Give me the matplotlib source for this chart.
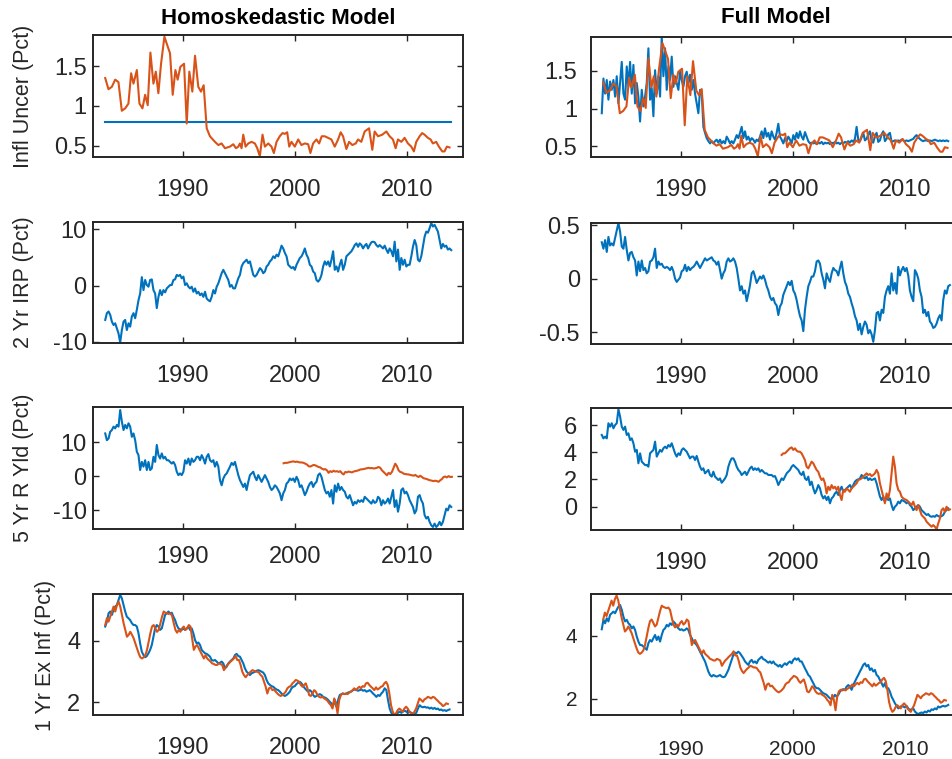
import numpy as np
import matplotlib
matplotlib.use("Agg")
import matplotlib.pyplot as plt

plt.rcParams['font.family'] = ['Liberation Sans', 'DejaVu Sans']
plt.rcParams['axes.unicode_minus'] = False

BLUE = '#0072BD'
ORANGE = '#D95319'
INK = '#262626'

# ---------------- data ----------------
# Observed inflation uncertainty (orange, both top panels)
unc_obs_years = [1983.09, 1983.38, 1983.68, 1983.98, 1984.27, 1984.57, 1984.87, 1985.16, 1985.40, 1985.61,
                 1985.91, 1986.14, 1986.41, 1986.65, 1986.88, 1987.12, 1987.39, 1987.60, 1987.83, 1988.07,
                 1988.37, 1988.58, 1988.87, 1989.11, 1989.35, 1989.55, 1989.79, 1990.12, 1990.36, 1990.59,
                 1990.86, 1991.10, 1991.39, 1991.63, 1991.87, 1992.14, 1992.43, 1992.88, 1993.18, 1993.47,
                 1993.77, 1994.21, 1994.51, 1994.75, 1994.96, 1995.10, 1995.25, 1995.40, 1995.61, 1995.85,
                 1996.14, 1996.44, 1996.65, 1996.88, 1997.12, 1997.33, 1997.63, 1997.92, 1998.13, 1998.37,
                 1998.66, 1998.90, 1999.11, 1999.32, 1999.50, 1999.70, 2000.00, 2000.30, 2000.59, 2000.89,
                 2001.19, 2001.39, 2001.63, 2001.93, 2002.17, 2002.40, 2002.67, 2002.97, 2003.26, 2003.56,
                 2003.86, 2004.09, 2004.30, 2004.60, 2004.84, 2005.13, 2005.43, 2005.64, 2005.93, 2006.23,
                 2006.62, 2006.91, 2007.12, 2007.42, 2007.80, 2008.16, 2008.46, 2008.75, 2008.99, 2009.20,
                 2009.50, 2009.79, 2010.09, 2010.39, 2010.62, 2010.83, 2011.13, 2011.36, 2011.57, 2011.87,
                 2012.11, 2012.31, 2012.61, 2012.85, 2013.15, 2013.35, 2013.56, 2013.80]
unc_obs = [1.35, 1.21, 1.24, 1.33, 1.30, 0.94, 0.97, 1.03, 1.41, 1.28,
           1.45, 1.03, 0.97, 1.14, 1.01, 1.67, 1.28, 1.43, 1.16, 1.53,
           1.87, 1.78, 1.66, 1.14, 1.45, 1.33, 1.49, 1.53, 0.78, 1.43,
           1.18, 1.63, 1.24, 1.18, 1.26, 0.72, 0.62, 0.55, 0.51, 0.53,
           0.47, 0.49, 0.52, 0.47, 0.49, 0.53, 0.47, 0.64, 0.49, 0.53,
           0.55, 0.53, 0.47, 0.37, 0.64, 0.49, 0.53, 0.49, 0.41, 0.55,
           0.62, 0.66, 0.65, 0.67, 0.49, 0.55, 0.49, 0.58, 0.51, 0.53,
           0.52, 0.41, 0.53, 0.58, 0.53, 0.62, 0.62, 0.60, 0.58, 0.49,
           0.58, 0.67, 0.62, 0.46, 0.55, 0.51, 0.53, 0.58, 0.55, 0.68,
           0.72, 0.45, 0.68, 0.62, 0.64, 0.68, 0.62, 0.58, 0.47, 0.58,
           0.55, 0.60, 0.53, 0.49, 0.43, 0.55, 0.62, 0.66, 0.64, 0.60,
           0.58, 0.53, 0.55, 0.49, 0.43, 0.43, 0.49, 0.48]

# Homoskedastic model inflation uncertainty (constant)
homo_unc_years = [1983.09, 2013.95]
homo_unc = [0.80, 0.80]

# Full model inflation uncertainty (blue)
full_unc_span = (1982.96, 2013.86)
full_unc = [0.94, 1.40, 1.20, 1.38, 1.12, 1.36, 1.25, 1.38, 1.16, 1.43,
            1.07, 1.34, 1.62, 1.20, 1.12, 1.56, 1.29, 1.62, 1.20, 1.58,
            1.07, 1.34, 1.16, 0.83, 1.25, 1.03, 1.16, 1.34, 1.80, 1.12,
            1.27, 0.90, 1.51, 1.20, 1.43, 1.16, 1.96, 1.43, 1.80, 1.25,
            1.56, 1.38, 1.69, 1.29, 1.43, 1.34, 1.25, 1.49, 1.38, 1.29,
            1.43, 1.49, 1.34, 1.45, 1.25, 1.38, 1.20, 1.07, 0.94, 1.25,
            1.23, 0.76, 0.68, 0.61, 0.57, 0.54, 0.57, 0.54, 0.57, 0.59,
            0.55, 0.59, 0.54, 0.57, 0.54, 0.63, 0.59, 0.54, 0.57, 0.54,
            0.59, 0.65, 0.61, 0.68, 0.76, 0.61, 0.70, 0.59, 0.63, 0.57,
            0.61, 0.59, 0.55, 0.59, 0.57, 0.63, 0.70, 0.61, 0.74, 0.63,
            0.68, 0.59, 0.70, 0.63, 0.59, 0.68, 0.80, 0.63, 0.59, 0.54,
            0.61, 0.57, 0.63, 0.59, 0.54, 0.65, 0.59, 0.68, 0.61, 0.70,
            0.63, 0.59, 0.69, 0.63, 0.57, 0.54, 0.55,
            0.54, 0.55, 0.53, 0.55, 0.54, 0.56, 0.53, 0.55, 0.54, 0.55,
            0.53, 0.55, 0.54, 0.56, 0.54, 0.55, 0.53, 0.55, 0.54, 0.56,
            0.55, 0.57, 0.55, 0.58, 0.56, 0.60, 0.76, 0.59, 0.57, 0.62,
            0.68, 0.58, 0.60, 0.66, 0.70, 0.57, 0.55, 0.64, 0.68, 0.56,
            0.58, 0.66, 0.70, 0.57, 0.60, 0.66, 0.68, 0.56, 0.57, 0.58,
            0.57, 0.58, 0.57, 0.59, 0.58, 0.57, 0.58, 0.57, 0.58, 0.59,
            0.60, 0.63, 0.65, 0.62, 0.60, 0.58, 0.57, 0.58, 0.58, 0.57,
            0.58, 0.57, 0.58, 0.59, 0.58, 0.57, 0.58, 0.57, 0.58, 0.57,
            0.58, 0.57]

# Homoskedastic model 2-year inflation risk premium
homo_irp_span = (1983.09, 2013.95)
homo_irp = [-6.1, -4.9, -4.6, -5.2, -6.4, -7.0, -6.7, -7.6, -8.5, -10.1,
            -7.9, -6.4, -6.1, -7.9, -6.7, -7.3, -5.5, -4.9, -5.8, -4.3,
            -2.6, -1.4, 1.5, -0.8, 1.0, 0.1, -0.2, 1.0, 1.1, -0.8,
            -1.4, -4.0, -2.0, -0.8, -1.7, -0.8, -1.2, -0.5, -0.2, 0.1,
            0.1, 1.0, 1.1, 1.9, 1.7, 1.9, 1.3, 1.6, 0.1, 0.4,
            -0.2, -0.5, -0.2, -1.1, -0.5, -1.4, -1.1, -1.7, -1.4, -2.0,
            -1.1, -2.3, -2.6, -2.8, -2.0, -0.8, -1.4, -0.2, 0.4, 1.3,
            2.2, 2.8, 2.2, 1.6, 1.0, -0.2, 0.1, -0.5, -0.5, 0.4,
            1.3, 1.9, 3.4, 4.0, 4.3, 4.6, 4.0, 4.3, 3.1, 1.9,
            1.6, 1.9, 2.5, 3.1, 2.8, 2.2, 2.5, 3.4, 3.7, 4.3,
            4.6, 5.2, 4.9, 5.5, 5.2, 6.1, 7.1, 6.6, 5.8, 5.2,
            3.7, 3.4, 3.1, 3.3, 2.8, 3.7, 4.3, 4.9, 5.2, 5.8,
            6.6, 5.5, 4.9, 3.7, 3.4, 2.5, 2.2, 1.0, 0.7, 1.1,
            1.9, 3.4, 4.3, 3.7, 4.3, 3.4, 4.6, 6.1, 2.8, 3.4,
            2.5, 3.7, 4.6, 2.8, 3.7, 5.2, 5.5, 5.8, 6.1, 6.6,
            7.2, 7.5, 6.9, 7.5, 7.2, 6.6, 7.1, 7.4, 6.6, 7.2,
            7.7, 7.8, 7.7, 7.2, 6.9, 7.2, 6.9, 6.6, 7.1, 6.4,
            5.8, 6.6, 6.1, 5.2, 7.8, 4.3, 6.4, 2.8, 4.9, 3.7,
            4.6, 3.4, 3.7, 3.7, 5.2, 6.9, 8.1, 7.2, 4.6, 4.3,
            5.2, 6.9, 8.7, 9.6, 9.4, 10.2, 11.1, 10.5, 10.8, 10.2,
            9.6, 8.1, 6.6, 7.4, 6.9, 7.1, 6.4, 6.6, 6.3]

# Full model 2-year inflation risk premium
full_irp_span = (1982.96, 2014.01)
full_irp = [0.34, 0.28, 0.36, 0.25, 0.39, 0.31, 0.33, 0.31, 0.38, 0.45,
            0.52, 0.44, 0.30, 0.28, 0.39, 0.27, 0.17, 0.24, 0.25, 0.20,
            0.17, 0.03, 0.16, 0.07, 0.17, 0.08, 0.10, 0.05, 0.07, 0.16,
            0.17, 0.20, 0.28, 0.10, 0.16, 0.13, 0.14, 0.11, 0.10, 0.11,
            0.10, 0.08, 0.11, 0.07, 0.00, -0.03, -0.01, 0.01, 0.07, 0.08,
            0.13, 0.07, 0.11, 0.08, 0.10, 0.11, 0.13, 0.16, 0.13, 0.10,
            0.13, 0.16, 0.19, 0.17, 0.18, 0.19, 0.20, 0.17, 0.16, 0.13,
            0.16, 0.08, 0.00, 0.05, 0.08, 0.16, 0.19, 0.16, 0.17, 0.19,
            0.16, 0.10, 0.00, -0.11, -0.07, -0.14, -0.11, -0.21, -0.14, -0.06,
            0.05, 0.07, 0.02, -0.04, -0.01, 0.02, 0.00, 0.03, -0.01, -0.07,
            -0.11, -0.17, -0.20, -0.18, -0.23, -0.25, -0.34, -0.26, -0.23, -0.15,
            -0.11, -0.07, -0.03, -0.06, -0.02, -0.11, -0.14, -0.20, -0.28, -0.35,
            -0.39, -0.49, -0.29, -0.17, -0.07, -0.03, 0.02, 0.02, 0.07, 0.16,
            0.17, 0.14, 0.05, -0.01, -0.09, 0.05, 0.00, -0.03, 0.05, 0.10,
            0.08, 0.07, 0.03, 0.10, 0.16, 0.05, -0.03, -0.07, -0.14, -0.17,
            -0.23, -0.28, -0.35, -0.39, -0.48, -0.42, -0.52, -0.45, -0.40, -0.43,
            -0.51, -0.48, -0.52, -0.59, -0.48, -0.32, -0.31, -0.39, -0.29, -0.32,
            -0.17, -0.11, -0.07, -0.14, 0.05, -0.11, -0.04, -0.14, 0.11, 0.03,
            0.08, 0.11, 0.07, 0.10, 0.03, -0.11, -0.17, -0.21, 0.08, 0.05,
            0.00, -0.11, -0.17, -0.32, -0.29, -0.35, -0.31, -0.40, -0.42, -0.46,
            -0.45, -0.42, -0.37, -0.34, -0.39, -0.20, -0.11, -0.14, -0.07, -0.06]

# Homoskedastic model 5-year real yield (blue)
homo_ry_span = (1983.09, 2013.95)
homo_ry = [12.6, 10.6, 11.1, 13.1, 13.6, 14.6, 14.1, 15.1, 14.6, 19.5,
           16.1, 13.6, 15.1, 14.1, 15.6, 14.6, 11.6, 12.6, 10.6, 7.2,
           6.2, 1.8, 4.2, 2.8, 4.7, 1.8, 4.2, 1.8, 2.3, 5.7,
           4.2, 9.2, 6.2, 5.2, 6.7, 5.2, 5.7, 4.7, 4.7, 4.2,
           3.7, 4.2, 3.3, 1.3, 0.3, 0.8, 0.3, 1.3, 4.7, 3.7,
           5.2, 3.3, 5.2, 4.2, 4.7, 5.7, 5.7, 4.7, 6.2, 5.2,
           3.7, 5.7, 6.5, 4.7, 4.2, 4.7, 2.8, 4.2, 2.8, -1.2,
           -2.7, -0.7, 0.3, 0.8, 1.8, 2.8, 3.9, 3.3, 4.2, 2.3,
           0.3, -1.2, -2.2, -3.2, -2.2, -4.1, -1.7, 0.3, 0.8, 1.3,
           -0.2, -1.2, 0.3, -0.7, -1.7, -0.7, 0.3, -0.7, -1.7, -3.2,
           -4.1, -3.6, -2.7, -3.2, -4.1, -5.1, -7.1, -5.1, -4.1, -2.2,
           -1.7, -0.7, -1.2, -0.7, -1.7, -0.2, -1.2, -3.2, -2.7, -4.1,
           -5.6, -4.6, -3.2, -2.2, -1.7, -3.2, -2.2, -1.7, 0.3, 0.8,
           -0.2, -2.2, -4.1, -5.1, -4.6, -6.1, -4.1, -8.1, -2.7, -4.6,
           -2.2, -4.1, -3.2, -4.1, -4.6, -6.1, -6.6, -5.6, -7.1, -8.6,
           -7.6, -8.1, -7.1, -7.6, -7.1, -7.6, -6.1, -6.6, -7.1, -7.6,
           -8.1, -7.1, -7.9, -7.6, -6.1, -6.6, -8.6, -7.1, -8.1, -7.6,
           -6.6, -8.1, -6.1, -4.1, -9.1, -7.1, -10.5, -8.1, -4.1, -3.6,
           -5.1, -4.6, -5.6, -7.1, -8.1, -9.1, -11.0, -10.1, -6.1, -5.6,
           -7.1, -8.1, -11.5, -12.5, -12.0, -13.5, -14.5, -15.0, -14.0, -15.0,
           -14.5, -13.5, -14.5, -13.5, -11.5, -9.6, -10.1, -8.6, -9.1]

# Full model 5-year real yield (blue)
full_ry_span = (1982.96, 2013.86)
full_ry = [5.27, 5.02, 5.15, 5.02, 6.13, 5.88, 6.13, 5.76, 6.00, 6.13,
           7.16, 6.62, 5.88, 5.64, 5.88, 5.27, 5.39, 4.90, 5.02, 4.66,
           4.04, 4.17, 3.19, 3.92, 3.31, 3.19, 3.06, 3.06, 2.94, 3.92,
           4.04, 4.17, 4.78, 3.68, 3.92, 4.17, 4.04, 4.29, 4.41, 4.29,
           4.53, 4.41, 4.66, 4.29, 3.92, 3.68, 3.92, 3.80, 4.17, 4.29,
           4.17, 4.04, 3.80, 3.55, 3.68, 3.68, 3.43, 3.73, 3.31, 2.94,
           2.70, 2.82, 2.45, 2.57, 2.70, 2.33, 2.21, 2.57, 2.21, 2.08,
           1.96, 2.08, 1.76, 1.91, 2.08, 2.33, 2.94, 3.31, 3.55, 3.55,
           3.31, 2.94, 2.70, 2.57, 2.33, 2.45, 2.57, 2.33, 2.57, 2.82,
           2.94, 2.70, 2.82, 2.70, 2.82, 2.57, 2.70, 2.57, 2.45, 2.45,
           2.33, 2.33, 2.33, 2.21, 2.25, 1.96, 1.59, 1.84, 2.08, 1.96,
           2.21, 2.45, 2.57, 2.70, 2.94, 3.06, 2.94, 2.82, 2.70, 2.45,
           2.33, 2.57, 2.08, 1.96, 2.21, 1.59, 1.84, 1.35, 0.98, 1.23,
           1.59, 1.35, 0.86, 0.61, 0.78, 0.49, 0.74, 0.25, 0.61, 0.74,
           0.98, 1.10, 0.86, 1.23, 1.47, 1.10, 1.23, 1.35, 1.47, 1.59,
           1.35, 1.59, 1.84, 1.96, 2.01, 2.08, 2.33, 2.16, 2.08, 2.21,
           1.96, 2.08, 1.96, 2.01, 2.08, 1.72, 1.23, 0.74, 0.49, 0.74,
           0.37, 0.74, 0.49, 0.61, 0.12, -0.25, 0.00, 0.12, 0.37, 0.25,
           0.49, 0.44, 0.37, 0.25, 0.37, 0.12, 0.00, -0.25, -0.12, 0.00,
           0.12, 0.00, -0.25, -0.37, -0.49, -0.61, -0.54, -0.69, -0.74, -0.69,
           -0.74, -0.61, -0.69, -0.74, -0.69, -0.61, -0.37, -0.25, -0.12]

# TIPS 5-year real yield (orange, both row-3 panels)
tips_ry_span = (1999.00, 2014.01)
tips_ry = [3.80, 3.92, 3.92, 4.04, 4.17, 4.29, 4.36, 4.17, 4.29, 4.12,
           4.04, 4.04, 3.92, 3.68, 3.43, 2.94, 2.82, 3.06, 3.31, 3.19,
           2.94, 2.70, 2.57, 2.21, 1.96, 2.08, 1.72, 0.98, 1.47, 1.23,
           1.59, 1.35, 1.47, 1.23, 1.47, 0.86, 0.49, 1.23, 1.10, 1.35,
           1.23, 1.10, 1.35, 1.47, 1.59, 1.72, 1.96, 2.01, 2.08, 2.21,
           2.33, 2.45, 2.33, 2.40, 2.25, 2.33, 2.45, 2.70, 2.45, 1.72,
           1.23, 0.74, 0.25, 0.98, 0.61, 1.23, 2.45, 3.68, 2.94, 1.72,
           1.23, 1.10, 0.74, 0.61, 0.54, 0.49, 0.37, 0.25, 0.12, 0.37,
           0.00, -0.25, 0.12, -0.25, -0.61, -0.74, -0.86, -1.10, -1.23, -1.35,
           -1.47, -1.35, -1.47, -1.67, -1.23, -0.86, -0.25, -0.12, -0.37, 0.00,
           -0.25, -0.20]

# Homoskedastic model 1-year expected inflation (blue)
homo_ei_span = (1983.09, 2013.80)
homo_ei = [4.47, 4.63, 4.90, 4.96, 4.85, 5.01, 5.12, 5.17, 5.34, 5.50,
           5.39, 5.17, 4.96, 4.79, 4.74, 4.68, 4.58, 4.52, 4.52, 4.47,
           4.25, 3.92, 3.65, 3.54, 3.47, 3.51, 3.60, 3.71, 3.87, 4.14,
           4.41, 4.52, 4.47, 4.36, 4.41, 4.63, 4.85, 4.90, 4.96, 4.90,
           4.92, 4.79, 4.68, 4.52, 4.41, 4.38, 4.36, 4.41, 4.36, 4.41,
           4.47, 4.36, 4.41, 4.25, 4.03, 3.92, 3.95, 3.87, 3.71, 3.65,
           3.60, 3.58, 3.54, 3.49, 3.38, 3.36, 3.38, 3.33, 3.27, 3.29,
           3.33, 3.27, 3.11, 3.16, 3.27, 3.33, 3.38, 3.43, 3.54, 3.58,
           3.51, 3.49, 3.38, 3.27, 3.11, 3.00, 2.95, 2.89, 2.95, 2.97,
           3.00, 3.03, 3.05, 3.03, 3.00, 2.97, 2.89, 2.73, 2.62, 2.57,
           2.53, 2.51, 2.46, 2.42, 2.40, 2.35, 2.29, 2.24, 2.21, 2.24,
           2.29, 2.35, 2.46, 2.51, 2.53, 2.60, 2.64, 2.67, 2.62, 2.53,
           2.46, 2.40, 2.35, 2.40, 2.35, 2.24, 2.18, 2.21, 2.24, 2.27,
           2.24, 2.18, 2.16, 2.13, 2.08, 2.02, 1.97, 1.88, 2.08, 1.86,
           2.08, 2.24, 2.27, 2.29, 2.27, 2.29, 2.32, 2.34, 2.36, 2.40,
           2.42, 2.40, 2.38, 2.40, 2.42, 2.38, 2.40, 2.35, 2.37, 2.40,
           2.35, 2.29, 2.24, 2.18, 2.24, 2.21, 2.29, 2.35, 2.46, 2.40,
           2.08, 1.80, 1.66, 1.62, 1.59, 1.64, 1.66, 1.70, 1.66, 1.70,
           1.73, 1.70, 1.66, 1.70, 1.66, 1.64, 1.62, 1.66, 1.80, 1.91,
           1.86, 1.84, 1.86, 1.83, 1.84, 1.80, 1.83, 1.79, 1.82, 1.78,
           1.80, 1.75, 1.77, 1.73, 1.75, 1.72, 1.75, 1.77]

# Full model 1-year expected inflation (blue)
full_ei_span = (1982.96, 2013.86)
full_ei = [4.21, 4.51, 4.40, 4.56, 4.46, 4.67, 4.72, 4.77, 4.72, 4.83,
           4.93, 4.98, 4.83, 4.61, 4.46, 4.51, 4.40, 4.35, 4.24, 4.30,
           4.19, 3.98, 3.82, 3.71, 3.71, 3.66, 3.61, 3.56, 3.77, 3.87,
           3.82, 3.93, 4.03, 3.87, 3.98, 3.82, 4.03, 4.19, 4.24, 4.35,
           4.30, 4.40, 4.35, 4.46, 4.40, 4.30, 4.24, 4.19, 4.21, 4.17,
           4.19, 4.24, 4.19, 4.03, 3.93, 3.82, 3.77, 3.71, 3.61, 3.50,
           3.40, 3.29, 3.19, 3.03, 2.87, 2.76, 2.71, 2.76, 2.73, 2.71,
           2.73, 2.76, 2.71, 2.69, 2.71, 2.81, 2.92, 3.08, 3.24, 3.40,
           3.47, 3.45, 3.50, 3.45, 3.37, 3.29, 3.19, 3.13, 3.08, 3.19,
           3.24, 3.15, 3.19, 3.13, 3.24, 3.29, 3.34, 3.26, 3.24, 3.19,
           3.15, 3.19, 3.13, 3.19, 3.11, 3.08, 3.03, 3.08, 3.01, 3.08,
           3.13, 3.08, 3.15, 3.19, 3.13, 3.24, 3.29, 3.24, 3.29, 3.19,
           3.19, 3.08, 2.97, 2.87, 2.76, 2.71, 2.60, 2.50, 2.39, 2.34,
           2.34, 2.29, 2.23, 2.18, 2.16, 2.13, 2.07, 2.02, 1.99, 2.05,
           2.13, 2.07, 2.13, 2.23, 2.29, 2.31, 2.29, 2.39, 2.44, 2.39,
           2.29, 2.44, 2.55, 2.66, 2.76, 2.87, 2.97, 3.08, 3.13, 3.03,
           3.08, 2.92, 2.97, 2.87, 2.92, 2.76, 2.71, 2.60, 2.50, 2.39,
           2.50, 2.34, 2.34, 2.23, 2.07, 1.97, 1.86, 1.78, 1.70, 1.73,
           1.78, 1.76, 1.73, 1.78, 1.70, 1.65, 1.67, 1.70, 1.60, 1.55,
           1.52, 1.55, 1.57, 1.55, 1.60, 1.57, 1.63, 1.60, 1.67, 1.65,
           1.70, 1.67, 1.76, 1.73, 1.76, 1.78, 1.76, 1.78, 1.81]

# Survey 1-year expected inflation (orange, both bottom panels)
survey_ei_span = (1983.09, 2013.65)
survey_ei = [4.52, 4.74, 4.63, 4.79, 4.96, 5.12, 4.96, 5.17, 5.28, 5.12,
             4.85, 4.58, 4.36, 4.14, 4.20, 4.30, 4.20, 4.09, 3.92, 3.76,
             3.60, 3.47, 3.43, 3.47, 3.54, 3.71, 3.98, 4.25, 4.47, 4.52,
             4.41, 4.30, 4.36, 4.58, 4.79, 4.96, 4.92, 4.90, 4.88, 4.90,
             4.82, 4.58, 4.36, 4.27, 4.36, 4.30, 4.41, 4.47, 4.36, 4.41,
             4.52, 4.47, 4.09, 3.71, 3.82, 3.87, 3.76, 3.65, 3.54, 3.43,
             3.54, 3.43, 3.38, 3.33, 3.27, 3.25, 3.22, 3.22, 3.27, 3.25,
             3.22, 3.05, 3.14, 3.22, 3.27, 3.33, 3.38, 3.43, 3.51, 3.38,
             3.38, 3.22, 3.00, 2.89, 2.82, 2.89, 2.95, 3.00, 3.05, 3.03,
             3.00, 3.00, 2.97, 2.89, 2.84, 2.67, 2.51, 2.29, 2.46, 2.49,
             2.40, 2.42, 2.35, 2.29, 2.24, 2.21, 2.24, 2.29, 2.35, 2.46,
             2.51, 2.53, 2.62, 2.67, 2.73, 2.71, 2.67, 2.57, 2.51, 2.57,
             2.62, 2.46, 2.24, 2.21, 2.29, 2.40, 2.35, 2.24, 2.18, 2.16,
             2.18, 2.13, 2.10, 2.05, 1.97, 1.91, 1.80, 2.13, 1.97, 1.64,
             2.08, 2.24, 2.29, 2.27, 2.29, 2.27, 2.32, 2.35, 2.40, 2.46,
             2.40, 2.46, 2.51, 2.46, 2.53, 2.51, 2.62, 2.64, 2.57, 2.51,
             2.46, 2.40, 2.49, 2.42, 2.46, 2.51, 2.53, 2.62, 2.67, 2.57,
             2.29, 1.91, 1.70, 1.59, 1.64, 1.75, 1.80, 1.75, 1.70, 1.80,
             1.86, 1.80, 1.70, 1.64, 1.59, 1.70, 1.80, 1.97, 2.13, 2.08,
             2.02, 2.10, 2.13, 2.18, 2.16, 2.13, 2.18, 2.16, 2.10, 2.05,
             1.99, 1.95, 1.88, 1.91, 1.97, 1.95]


def timeline(span, values):
    return np.linspace(span[0], span[1], len(values))


# ---------------- figure ----------------
W, H = 953, 759
fig = plt.figure(figsize=(W / 100, H / 100), dpi=100)


def add_ax(x0, x1, top, bottom):
    return fig.add_axes([x0 / W, 1 - bottom / H, (x1 - x0) / W, (bottom - top) / H])


def style(ax, ylim, yticks, ylabels, ypad=4.5, xpad=15.5, fs=17):
    ax.set_xlim(1982, 2015)
    ax.set_ylim(*ylim)
    ax.set_xticks([1990, 2000, 2010])
    ax.set_xticklabels(['1990', '2000', '2010'])
    ax.set_yticks(yticks)
    ax.set_yticklabels(ylabels)
    ax.tick_params(direction='in', length=4, width=1.0, colors=INK,
                   labelsize=fs, top=True, right=True)
    ax.tick_params(axis='y', pad=ypad)
    ax.tick_params(axis='x', pad=xpad)
    for s in ax.spines.values():
        s.set_color(INK)
        s.set_linewidth(1.4)


LW = 1.5
LX0, LX1 = 93, 463
RX0, RX1 = 591, 961

# Row 1
ax = add_ax(LX0, LX1, 35, 157)
ax.plot(homo_unc_years, homo_unc, color=BLUE, lw=LW)
ax.plot(unc_obs_years, unc_obs, color=ORANGE, lw=LW)
style(ax, (0.36, 1.89), [0.5, 1, 1.5], ['0.5', '1', '1.5'])
ax.set_title('Homoskedastic Model', fontsize=16, fontweight='bold', pad=8)

ax = add_ax(RX0, RX1, 37, 157)
ax.plot(timeline(full_unc_span, full_unc), full_unc, color=BLUE, lw=LW)
ax.plot(unc_obs_years, unc_obs, color=ORANGE, lw=LW)
style(ax, (0.36, 1.95), [0.5, 1, 1.5], ['0.5', '1', '1.5'], ypad=10)
ax.set_title('Full Model', fontsize=16, fontweight='bold', pad=10)

# Row 2
ax = add_ax(LX0, LX1, 222, 343)
ax.plot(timeline(homo_irp_span, homo_irp), homo_irp, color=BLUE, lw=LW)
style(ax, (-10.2, 11.3), [-10, 0, 10], ['-10', '0', '10'])

ax = add_ax(RX0, RX1, 223, 344)
ax.plot(timeline(full_irp_span, full_irp), full_irp, color=BLUE, lw=LW)
style(ax, (-0.61, 0.52), [-0.5, 0, 0.5], ['-0.5', '0', '0.5'], ypad=8)

# Row 3
ax = add_ax(LX0, LX1, 407, 529)
ax.plot(timeline(homo_ry_span, homo_ry), homo_ry, color=BLUE, lw=LW)
ax.plot(timeline(tips_ry_span, tips_ry), tips_ry, color=ORANGE, lw=LW)
style(ax, (-15.6, 20.4), [-10, 0, 10], ['-10', '0', '10'], xpad=12)

ax = add_ax(RX0, RX1, 408, 530)
ax.plot(timeline(full_ry_span, full_ry), full_ry, color=BLUE, lw=LW)
ax.plot(timeline(tips_ry_span, tips_ry), tips_ry, color=ORANGE, lw=LW)
style(ax, (-1.71, 7.25), [0, 2, 4, 6], ['0', '2', '4', '6'], ypad=10)

# Row 4
ax = add_ax(LX0, LX1, 594, 715)
ax.plot(timeline(homo_ei_span, homo_ei), homo_ei, color=BLUE, lw=LW)
ax.plot(timeline(survey_ei_span, survey_ei), survey_ei, color=ORANGE, lw=LW)
style(ax, (1.59, 5.53), [2, 4], ['2', '4'], ypad=9)

ax = add_ax(RX0, RX1, 594, 715)
ax.plot(timeline(full_ei_span, full_ei), full_ei, color=BLUE, lw=LW)
ax.plot(timeline(survey_ei_span, survey_ei), survey_ei, color=ORANGE, lw=LW)
style(ax, (1.49, 5.33), [2, 4], ['2', '4'], ypad=10, xpad=18, fs=15)

# Y labels
ylab = dict(rotation=90, ha='center', va='center', fontsize=15.5, color=INK)
fig.text(24 / W, 1 - 96 / H, 'Infl Uncer (Pct)', **ylab)
fig.text(24 / W, 1 - 282 / H, '2 Yr IRP (Pct)', **ylab)
fig.text(24 / W, 1 - 468 / H, '5 Yr R Yld (Pct)', **ylab)
fig.text(46 / W, 1 - 655 / H, '1 Yr Ex Inf (Pct)', **ylab)

fig.savefig('out.png', dpi=100)
